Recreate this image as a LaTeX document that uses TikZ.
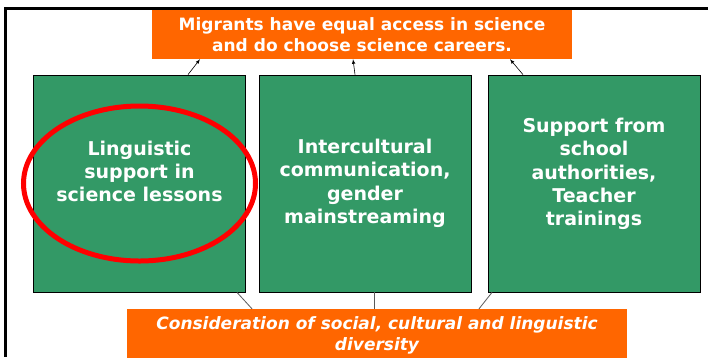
\documentclass[tikz,border=0pt]{standalone}
\usepackage{fontspec}
\setmainfont{DejaVu Sans}
\usepackage{tikz}
\usetikzlibrary{shapes.geometric}
\definecolor{boxgreen}{RGB}{51,153,102}
\definecolor{boxorange}{RGB}{255,102,0}

\begin{document}
\begin{tikzpicture}
[x=1pt,y=-1pt,
goalbox/.style={fill=boxorange,text=white,minimum width=420pt,minimum height=49pt,
font=\fontsize{17}{21}\selectfont\bfseries,align=center,inner sep=0pt},
basebox/.style={fill=boxorange,text=white,minimum width=500pt,minimum height=53pt,
font=\fontsize{17}{21}\selectfont\bfseries\itshape,align=center,inner sep=0pt},
pillar/.style={draw=black,line width=0.8pt,fill=boxgreen,minimum width=212pt,
minimum height=217pt,inner sep=0pt},
pillartext/.style={text=white,align=center,font=\fontsize{19}{23.4}\selectfont\bfseries},
up/.style={->,>=latex,line width=0.6pt},
down/.style={draw=black!65,line width=0.8pt}]
\useasboundingbox (0,0) rectangle (708,357);
% frame
\draw[line width=2.2pt] (708,8.5) -- (5.5,8.5) -- (5.5,357);
% goal and base
\node[goalbox] (goal) at (362,34.5) {Migrants have equal access in science\\and do choose science careers.};
\node[basebox] (base) at (377,335.5) {Consideration of social, cultural and linguistic\\diversity};
% three pillars
\node[pillar] (p1) at (139.5,183.5) {};
\node[pillar] (p2) at (365,183.5) {};
\node[pillar] (p3) at (594,183.5) {};
\node[pillartext] (t1) at ([yshift=12pt]p1.center) {Linguistic\\support in\\science lessons};
\node[pillartext] (t2) at (p2.center) {Intercultural\\communication,\\gender\\mainstreaming};
\node[pillartext] (t3) at ([yshift=9.5pt]p3.center) {Support from\\school\\authorities,\\Teacher\\trainings};
% highlight
\node[ellipse,draw=red,line width=5pt,minimum width=232pt,minimum height=155pt] (hl) at (p1.center) {};
% connectors
\draw[up] ([xshift=48.5pt]p1.north) -- ([xshift=-162pt]goal.south);
\draw[up] ([xshift=-10pt]p2.north) -- ([xshift=-9pt]goal.south);
\draw[up] ([xshift=-71pt]p3.north) -- ([xshift=148pt]goal.south);
\draw[down] ([xshift=97.5pt]p1.south) -- ([xshift=-125pt]base.north);
\draw[down] ([xshift=9pt]p2.south) -- ([xshift=-3pt]base.north);
\draw[down] ([xshift=-102pt]p3.south) -- ([xshift=102pt]base.north);
\end{tikzpicture}
\end{document}
